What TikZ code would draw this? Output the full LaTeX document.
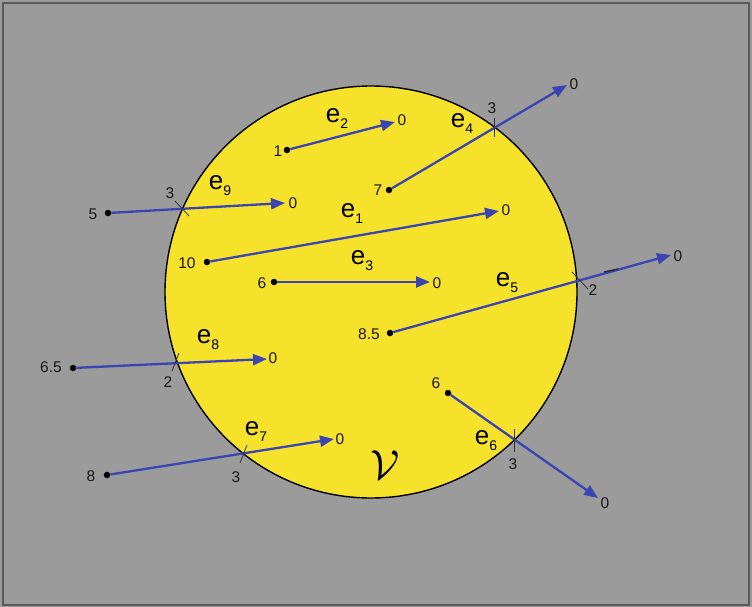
\documentclass[tikz,border=0pt]{standalone}
\usepackage{fontspec}
\setmainfont{Liberation Sans}
\usetikzlibrary{arrows.meta}
\definecolor{bgcol}{HTML}{9B9B9B}
\definecolor{bordercol}{HTML}{5A5A5A}
\definecolor{yel}{HTML}{F6E22B}
\definecolor{arrblue}{HTML}{3A45B3}
\newcommand\edgelab[1]{e\raisebox{-6pt}{\fontsize{14}{16}\selectfont #1}}
\tikzset{
  dot/.style={circle, fill=black, inner sep=0pt, minimum size=6.5pt},
  num/.style={font=\fontsize{15.5}{17}\selectfont, inner sep=0pt, text=black!90},
  elab/.style={font=\fontsize{26}{28}\selectfont, inner sep=0pt},
  flow/.style={draw=arrblue, line width=2.3pt, -{Triangle[length=14pt,width=11pt]}},
  tick/.style={draw=black!80, line width=0.8pt},
}
\begin{document}
\begin{tikzpicture}[x=1pt,y=-1pt]
\useasboundingbox (0,0) rectangle (752,607);
\fill[bgcol] (0,0) rectangle (752,607);
\draw[bordercol, line width=1.2pt] (3,3) rectangle (749,605);
% region
\draw[fill=yel, draw=black, line width=1.4pt] (371,292) circle[radius=206];
\node[inner sep=0pt] (V) at (385,465) {\scalebox{4.2}{$\mathcal{V}$}};

% start dots
\node[dot] (s1) at (207,262) {};
\node[dot] (s2) at (287,150) {};
\node[dot] (s3) at (274,282) {};
\node[dot] (s4) at (389,190) {};
\node[dot] (s5) at (390,333) {};
\node[dot] (s6) at (448,393) {};
\node[dot] (s7) at (107,475) {};
\node[dot] (s8) at (73,368) {};
\node[dot] (s9) at (108,213) {};

% tips
\coordinate (t1) at (499,211);
\coordinate (t2) at (395,122);
\coordinate (t3) at (430,282);
\coordinate (t4) at (567,85);
\coordinate (t5) at (671,255);
\coordinate (t6) at (598,498);
\coordinate (t7) at (334,439);
\coordinate (t8) at (267,359);
\coordinate (t9) at (285,203);

% arrows
\foreach \i in {1,...,9}{ \draw[flow] (s\i) -- (t\i); }

% crossing ticks
\coordinate (c4a) at (494,118); \coordinate (c4b) at (494,137);
\coordinate (c9a) at (175,201); \coordinate (c9b) at (189,216);
\coordinate (c5a) at (572,272); \coordinate (c5b) at (588,289);
\coordinate (c8a) at (179,353); \coordinate (c8b) at (172,371);
\coordinate (c7a) at (247,445); \coordinate (c7b) at (240,463);
\coordinate (c6a) at (514,429); \coordinate (c6b) at (514,452);
\foreach \i in {4,9,5,8,7,6}{ \draw[tick] (c\i a) -- (c\i b); }
\coordinate (d5a) at (604,272); \coordinate (d5b) at (618,269);
\draw[black!85, line width=1.3pt] (d5a) -- (d5b);

% numbers
\node[num] (n2s) at (278,151) {1};
\node[num] (n2e) at (402,120) {0};
\node[num] (n4s) at (378,190) {7};
\node[num] (n4c) at (492,108) {3};
\node[num] (n4e) at (574,84) {0};
\node[num] (n9s) at (93,214) {5};
\node[num] (n9c) at (170,193) {3};
\node[num] (n9e) at (293,203) {0};
\node[num] (n1s) at (187,263) {10};
\node[num] (n1e) at (506,210) {0};
\node[num] (n3s) at (262,283) {6};
\node[num] (n3e) at (437,283) {0};
\node[num] (n5s) at (369,334) {8.5};
\node[num] (n5c) at (593,290) {2};
\node[num] (n5e) at (678,256) {0};
\node[num] (n8s) at (51,367) {6.5};
\node[num] (n8c) at (168,382) {2};
\node[num] (n8e) at (273,358) {0};
\node[num] (n7s) at (91,476) {8};
\node[num] (n7c) at (236,477) {3};
\node[num] (n7e) at (340,439) {0};
\node[num] (n6s) at (436,383) {6};
\node[num] (n6c) at (513,464) {3};
\node[num] (n6e) at (605,503) {0};

% edge labels
\node[elab] (e1) at (352,214) {\edgelab{1}};
\node[elab] (e2) at (337,119) {\edgelab{2}};
\node[elab] (e3) at (362,261) {\edgelab{3}};
\node[elab] (e4) at (462,124) {\edgelab{4}};
\node[elab] (e5) at (507,283) {\edgelab{5}};
\node[elab] (e6) at (486,441) {\edgelab{6}};
\node[elab] (e7) at (256,432) {\edgelab{7}};
\node[elab] (e8) at (208,340) {\edgelab{8}};
\node[elab] (e9) at (220,186) {\edgelab{9}};
\end{tikzpicture}
\end{document}
